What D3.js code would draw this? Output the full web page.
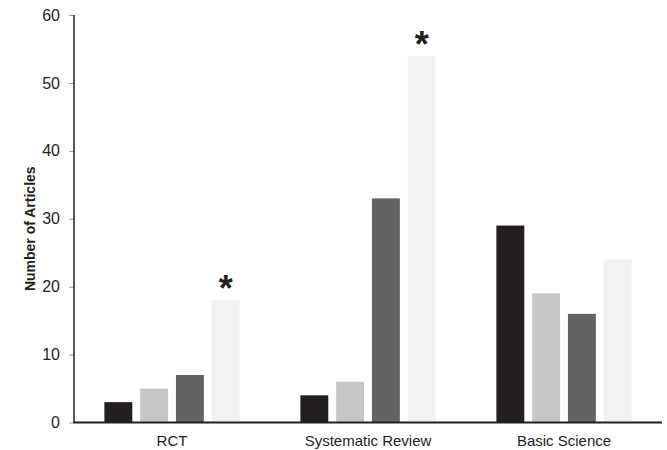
<!DOCTYPE html>
<html>
<head>
<meta charset="utf-8">
<script src="https://cdn.jsdelivr.net/npm/d3@7/dist/d3.min.js"></script>
<style>
  html, body { margin: 0; padding: 0; background: #fff; }
  svg { display: block; }
  text { font-family: "Liberation Sans", Arial, Helvetica, sans-serif; }
</style>
</head>
<body>
<svg id="chart" width="667" height="450"></svg>
<script>
// Article counts by study type, four series per group
const categories = ["RCT", "Systematic Review", "Basic Science"];
const seriesNames = ["s1", "s2", "s3", "s4"];
const series1 = [3, 4, 29];
const series2 = [5, 6, 19];
const series3 = [7, 33, 16];
const series4 = [18, 54, 24];
// groups whose last bar carries a significance marker
const significant = [true, true, false];
const yTicks = [0, 10, 20, 30, 40, 50, 60];
const colors = ["#231f20", "#c6c7c8", "#636363", "#f1f2f2"];

const allSeries = [series1, series2, series3, series4];
const svg = d3.select("#chart");

const plotLeft = 74, plotRight = 662, plotTop = 15, plotBottom = 422.5;

const x0 = d3.scaleBand().domain(categories).range([plotLeft, plotRight])
  .paddingInner(0.31).paddingOuter(0.155);
const x1 = d3.scaleBand().domain(seriesNames).range([0, x0.bandwidth()])
  .paddingInner(0.22).paddingOuter(0);
const y = d3.scaleLinear().domain([0, 60]).range([plotBottom, plotTop]);

// bars
const groups = svg.append("g").selectAll("g")
  .data(categories)
  .join("g")
  .attr("transform", d => `translate(${x0(d)},0)`);

groups.selectAll("rect")
  .data((c, i) => seriesNames.map((s, j) => ({ s, v: allSeries[j][i], j })))
  .join("rect")
  .attr("x", d => x1(d.s))
  .attr("width", x1.bandwidth())
  .attr("y", d => y(d.v))
  .attr("height", d => y(0) - y(d.v))
  .attr("fill", d => colors[d.j]);

// significance asterisks above the last bar of a group
categories.forEach((c, i) => {
  if (!significant[i]) return;
  const v = series4[i];
  svg.append("text")
    .attr("x", x0(c) + x1("s4") + x1.bandwidth() / 2)
    .attr("y", y(v) + 1)
    .attr("text-anchor", "middle")
    .attr("font-size", 36)
    .attr("font-weight", "bold")
    .attr("fill", "#231f20")
    .text("*");
});

// y axis
const yAxis = d3.axisLeft(y).tickValues(yTicks).tickSize(5).tickPadding(9);
const gy = svg.append("g").attr("transform", `translate(${plotLeft},0)`).call(yAxis);
gy.select(".domain").remove();
gy.selectAll(".tick line").attr("stroke", "#999").attr("stroke-width", 1);
gy.selectAll(".tick text")
  .attr("font-size", 16)
  .attr("fill", "#231f20")
  .attr("font-family", "'Liberation Sans', Arial, sans-serif");
svg.append("line")
  .attr("x1", plotLeft).attr("x2", plotLeft)
  .attr("y1", plotTop).attr("y2", plotBottom)
  .attr("stroke", "#231f20").attr("stroke-width", 1.5);

// x axis baseline and category labels
svg.append("line")
  .attr("x1", plotLeft - 0.75).attr("x2", plotRight)
  .attr("y1", plotBottom).attr("y2", plotBottom)
  .attr("stroke", "#231f20").attr("stroke-width", 2);

const xAxis = d3.axisBottom(x0).tickSize(0).tickPadding(13);
const gx = svg.append("g").attr("transform", `translate(0,${plotBottom})`).call(xAxis);
gx.select(".domain").remove();
gx.selectAll(".tick text")
  .attr("font-size", 15)
  .attr("fill", "#231f20")
  .attr("font-family", "'Liberation Sans', Arial, sans-serif");

// y axis title
svg.append("text")
  .attr("transform", `translate(35,${(plotTop + plotBottom) / 2 + 10}) rotate(-90)`)
  .attr("text-anchor", "middle")
  .attr("font-size", 14)
  .attr("font-weight", "bold")
  .attr("fill", "#231f20")
  .text("Number of Articles");
</script>
</body>
</html>
